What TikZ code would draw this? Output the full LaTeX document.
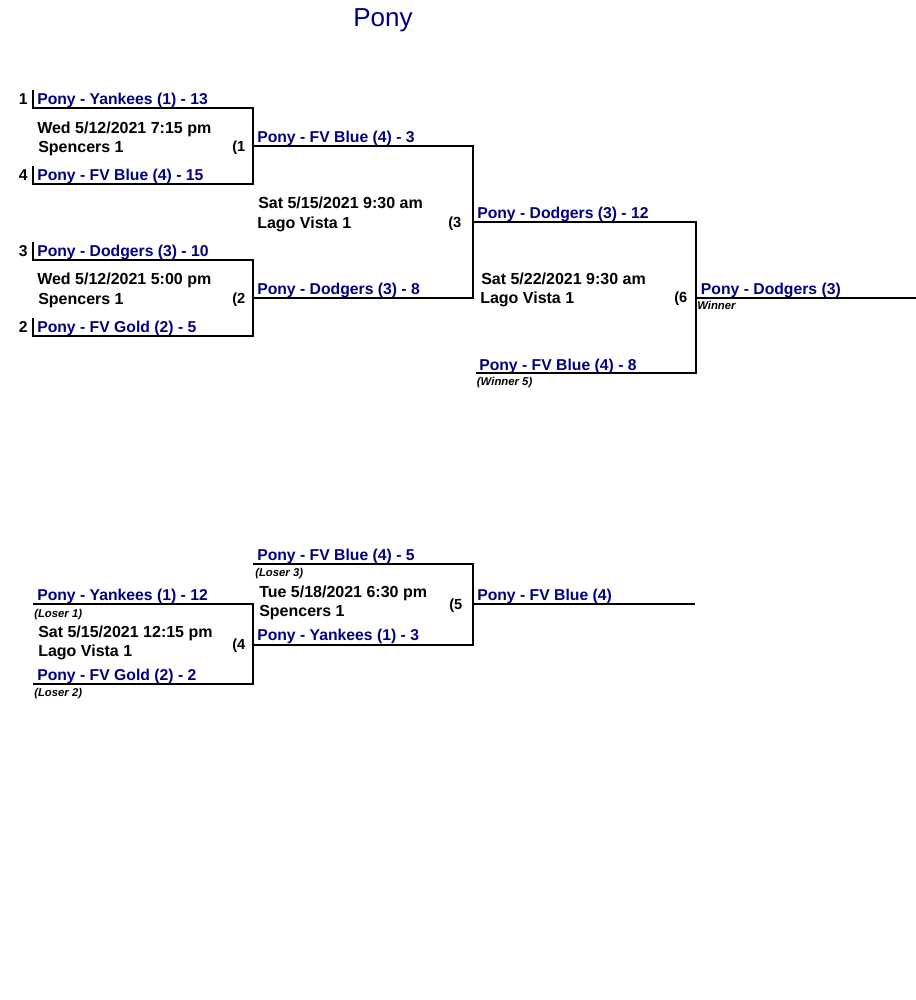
\documentclass[tikz,border=0pt]{standalone}
\usepackage{fontspec}
\setmainfont{Liberation Sans}
\usepackage{tikz}
\usetikzlibrary{positioning}
\definecolor{navy}{RGB}{0,0,128}
\tikzset{
  title/.style={anchor=base,inner sep=0pt,text=navy,font=\fontsize{19.5}{22}\selectfont},
  team/.style={anchor=base west,inner sep=0pt,text=navy,font=\fontsize{11.8}{14}\selectfont\bfseries},
  info/.style={anchor=base west,inner sep=0pt,font=\fontsize{12}{14}\selectfont\bfseries},
  gno/.style={anchor=base west,inner sep=0pt,font=\fontsize{11}{13}\selectfont\bfseries},
  seed/.style={anchor=base east,inner sep=0pt,font=\fontsize{11.8}{14}\selectfont\bfseries},
  note/.style={anchor=base west,inner sep=0pt,font=\fontsize{8.5}{10}\selectfont\bfseries\itshape},
  brk/.style={draw=black,line width=1.5pt},
}
\begin{document}
\begin{tikzpicture}[x=0.75pt,y=-0.75pt]
    \useasboundingbox (0,0) rectangle (916,1000);

    \node[title] (ttl) at (383,26.7) {Pony};

    % winners side
    \node[seed] (s1) at (28,104) {1};
    \node[team] (t11) at (37,104) {Pony - Yankees (1) - 13};
    \node[info] (d1) at (37,133) {Wed 5/12/2021 7:15 pm};
    \node[info] (f1) at (38,152.5) {Spencers 1};
    \node[gno] (g1) at (232,151) {(1};
    \node[seed] (s4) at (28,180) {4};
    \node[team] (t12) at (37,180) {Pony - FV Blue (4) - 15};

    \node[seed] (s3) at (28,256) {3};
    \node[team] (t21) at (37,256) {Pony - Dodgers (3) - 10};
    \node[info] (d2) at (37,284) {Wed 5/12/2021 5:00 pm};
    \node[info] (f2) at (38,304) {Spencers 1};
    \node[gno] (g2) at (232,303) {(2};
    \node[seed] (s2) at (28,332) {2};
    \node[team] (t22) at (37,332) {Pony - FV Gold (2) - 5};

    \node[team] (t31) at (257,142.5) {Pony - FV Blue (4) - 3};
    \node[info] (d3) at (258,208.3) {Sat 5/15/2021 9:30 am};
    \node[info] (f3) at (257,228.3) {Lago Vista 1};
    \node[gno] (g3) at (448,227) {(3};
    \node[team] (t32) at (257,294) {Pony - Dodgers (3) - 8};

    \node[team] (t41) at (477,218.3) {Pony - Dodgers (3) - 12};
    \node[info] (d6) at (481,284) {Sat 5/22/2021 9:30 am};
    \node[info] (f6) at (480,303.3) {Lago Vista 1};
    \node[gno] (g6) at (674,302) {(6};
    \node[team] (t42) at (479,370) {Pony - FV Blue (4) - 8};
    \node[note] (n42) at (476.7,385) {(Winner 5)};

    \node[team] (t51) at (700.7,294) {Pony - Dodgers (3)};
    \node[note] (n51) at (697,309.3) {Winner};

    % losers side
    \node[team] (t61) at (37,600.7) {Pony - Yankees (1) - 12};
    \node[note] (n61) at (34,617.3) {(Loser 1)};
    \node[info] (d4) at (38,637.3) {Sat 5/15/2021 12:15 pm};
    \node[info] (f4) at (38,656.7) {Lago Vista 1};
    \node[gno] (g4) at (232,649) {(4};
    \node[team] (t62) at (37,680.7) {Pony - FV Gold (2) - 2};
    \node[note] (n62) at (34,696.7) {(Loser 2)};

    \node[team] (t71) at (257,560.7) {Pony - FV Blue (4) - 5};
    \node[note] (n71) at (255,576.7) {(Loser 3)};
    \node[info] (d5) at (259,597.3) {Tue 5/18/2021 6:30 pm};
    \node[info] (f5) at (259,616.7) {Spencers 1};
    \node[gno] (g5) at (449,609) {(5};
    \node[team] (t72) at (257,640.7) {Pony - Yankees (1) - 3};

    \node[team] (t81) at (477,600.7) {Pony - FV Blue (4)};

    \begin{scope}[every path/.style=brk]
      \path (33,90) -- (33,107.5) -- (253,107.5) -- (253,183.5) -- (33,183.5) -- (33,166);
      \path (33,242) -- (33,259.5) -- (253,259.5) -- (253,335.5) -- (33,335.5) -- (33,318);
      \path (253,146) -- (473,146) -- (473,297.7) -- (253,297.7);
      \path (473,222) -- (695.5,222) -- (695.5,373.3) -- (476,373.3);
      \path (695.5,297.7) -- (916,297.7);

      \path (33,604.3) -- (253,604.3) -- (253,684.3) -- (33,684.3);
      \path (253,564.3) -- (473,564.3) -- (473,644.7) -- (253,644.7);
      \path (473,604.3) -- (695,604.3);
    \end{scope}

\end{tikzpicture}
\end{document}
